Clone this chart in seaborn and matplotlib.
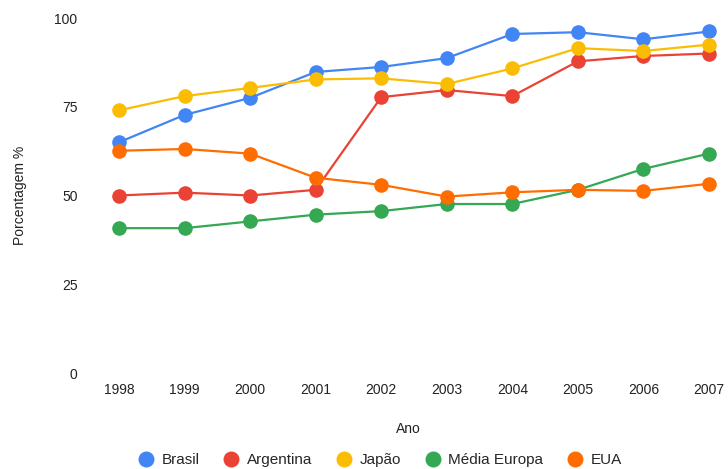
import pandas as pd
import seaborn as sns
import matplotlib.pyplot as plt
from matplotlib.lines import Line2D

anos = [1998, 1999, 2000, 2001, 2002, 2003, 2004, 2005, 2006, 2007]
brasil = [65, 72.7, 77.5, 84.8, 86.2, 88.7, 95.5, 96, 94, 96.2]
argentina = [50, 50.8, 50, 51.6, 77.7, 79.7, 78, 87.8, 89.3, 90]
japao = [74, 78, 80.3, 82.7, 83, 81.4, 85.8, 91.5, 90.7, 92.5]
media_europa = [40.8, 40.8, 42.7, 44.6, 45.6, 47.6, 47.6, 51.6, 57.5, 61.8]
eua = [62.6, 63.1, 61.8, 55, 53, 49.7, 50.9, 51.6, 51.3, 53.3]

series = ['Brasil', 'Argentina', 'Japão', 'Média Europa', 'EUA']
cores = ['#4285F4', '#EA4335', '#FBBC04', '#34A853', '#FF6D01']

df = pd.DataFrame({
    'Ano': anos * 5,
    'valor': brasil + argentina + japao + media_europa + eua,
    'serie': sum([[s] * len(anos) for s in series], []),
})

sns.set_theme(style='white')
plt.rcParams['font.family'] = ['Liberation Sans', 'DejaVu Sans']

fig = plt.figure(figsize=(7.28, 4.69), dpi=100)
ax = fig.add_axes([97 / 728, (469 - 373) / 469, (720 - 97) / 728, 355 / 469])

for s, c in zip(series, cores):
    d = df[df['serie'] == s]
    sns.lineplot(data=d, x='Ano', y='valor', color=c, marker='o',
                 markersize=10.5, markeredgewidth=0, linewidth=1.6,
                 ax=ax, clip_on=False, legend=False)

ax.set_xlim(1998 - 22 / 65.56, 2007 + 11 / 65.56)
ax.set_ylim(0, 100)
ax.set_xticks(anos)
ax.set_yticks([0, 25, 50, 75, 100])
ax.tick_params(axis='both', length=0, labelsize=10, colors='#222222')
ax.tick_params(axis='y', pad=14)
ax.tick_params(axis='x', pad=7)
ax.grid(False)
for sp in ax.spines.values():
    sp.set_visible(False)

ax.set_xlabel('Ano', fontsize=10, color='#222222', labelpad=18)
ax.set_ylabel('Porcentagem %', fontsize=10, color='#222222', labelpad=20)

handles = [Line2D([], [], marker='o', linestyle='', color=c, markersize=11.5,
                  markeredgewidth=0) for c in cores]
fig.legend(handles, series, loc='center', bbox_to_anchor=(0.522, 1 - 460 / 469),
           ncol=5, frameon=False, fontsize=11, handletextpad=0.5,
           columnspacing=1.6, handlelength=1.0)

fig.savefig('out.png', dpi=100)
